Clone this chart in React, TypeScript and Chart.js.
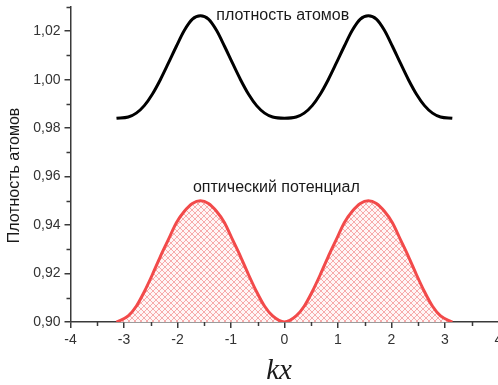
import React, { useEffect, useRef } from 'react';
import { Chart, registerables } from 'chart.js';

Chart.register(...registerables);

// ---- data ----
const DENSITY_X = [-3.14, -2.92, -2.77, -2.62, -2.47, -2.32, -2.17, -2.02, -1.87, -1.72, -1.57, -1.42, -1.27, -1.12, -0.97, -0.82, -0.67, -0.52, -0.37, -0.22, 0, 0.22, 0.37, 0.52, 0.67, 0.82, 0.97, 1.12, 1.27, 1.42, 1.57, 1.72, 1.87, 2.02, 2.17, 2.32, 2.47, 2.62, 2.77, 2.92, 3.14];
const DENSITY_Y = [0.9841, 0.9846, 0.9862, 0.9893, 0.994, 1.0, 1.0068, 1.0138, 1.0204, 1.025, 1.0264, 1.025, 1.0204, 1.0138, 1.0068, 1.0, 0.994, 0.9893, 0.9862, 0.9846, 0.9841, 0.9846, 0.9862, 0.9893, 0.994, 1.0, 1.0068, 1.0138, 1.0204, 1.025, 1.0264, 1.025, 1.0204, 1.0138, 1.0068, 1.0, 0.994, 0.9893, 0.9862, 0.9846, 0.9841];

const POTENTIAL_X = [-3.14, -2.92, -2.77, -2.62, -2.47, -2.32, -2.17, -2.02, -1.87, -1.72, -1.57, -1.42, -1.27, -1.12, -0.97, -0.82, -0.67, -0.52, -0.37, -0.22, 0, 0.22, 0.37, 0.52, 0.67, 0.82, 0.97, 1.12, 1.27, 1.42, 1.57, 1.72, 1.87, 2.02, 2.17, 2.32, 2.47, 2.62, 2.77, 2.92, 3.14];
const POTENTIAL_Y = [0.9, 0.9025, 0.9065, 0.9125, 0.9195, 0.927, 0.934, 0.941, 0.9457, 0.9489, 0.95, 0.9489, 0.9457, 0.941, 0.934, 0.927, 0.9195, 0.9125, 0.9065, 0.9025, 0.9, 0.9025, 0.9065, 0.9125, 0.9195, 0.927, 0.934, 0.941, 0.9457, 0.9489, 0.95, 0.9489, 0.9457, 0.941, 0.934, 0.927, 0.9195, 0.9125, 0.9065, 0.9025, 0.9];

const X_TICKS = [-4, -3, -2, -1, 0, 1, 2, 3, 4];
const X_TICK_LABELS = ['-4', '-3', '-2', '-1', '0', '1', '2', '3', '4'];
const X_MINOR = [-3.5, -2.5, -1.5, -0.5, 0.5, 1.5, 2.5, 3.5];
const Y_TICKS = [0.9, 0.92, 0.94, 0.96, 0.98, 1.0, 1.02];
const Y_TICK_LABELS = ['0,90', '0,92', '0,94', '0,96', '0,98', '1,00', '1,02'];
const Y_MINOR = [0.91, 0.93, 0.95, 0.97, 0.99, 1.01, 1.03];

const SERIES_LABELS = ['плотность атомов', 'оптический потенциал'];
const Y_TITLE = 'Плотность атомов';
const X_TITLE = 'kx';

const SANS = '"Liberation Sans", Arial, sans-serif';
const AXIS_COLOR = '#3a3a3a';

function makeHatch(): CanvasPattern | string {
  const c = document.createElement('canvas');
  c.width = 6;
  c.height = 6;
  const g = c.getContext('2d');
  if (!g) return 'rgba(240,80,80,0.3)';
  g.fillStyle = 'rgba(255,246,246,1)';
  g.fillRect(0, 0, 6, 6);
  g.strokeStyle = 'rgba(244,140,140,0.7)';
  g.lineWidth = 1;
  g.beginPath();
  g.moveTo(-1, -1);
  g.lineTo(7, 7);
  g.moveTo(7, -1);
  g.lineTo(-1, 7);
  g.stroke();
  return g.createPattern(c, 'repeat') as CanvasPattern;
}

const decorPlugin = {
  id: 'decor',
  afterDraw(chart: any) {
    const ctx = chart.ctx;
    const xs = chart.scales.x;
    const ys = chart.scales.y;
    ctx.save();
    // minor ticks
    ctx.strokeStyle = AXIS_COLOR;
    ctx.lineWidth = 1.5;
    ctx.beginPath();
    const axY = ys.bottom;
    const axX = xs.left;
    X_MINOR.forEach((v) => {
      const px = Math.round(xs.getPixelForValue(v)) + 0.5;
      ctx.moveTo(px, axY);
      ctx.lineTo(px, axY + 4);
    });
    Y_MINOR.forEach((v) => {
      const py = Math.round(ys.getPixelForValue(v)) + 0.5;
      ctx.moveTo(axX, py);
      ctx.lineTo(axX - 4, py);
    });
    ctx.stroke();

    // series annotations
    ctx.fillStyle = '#1a1a1a';
    ctx.font = `16px ${SANS}`;
    ctx.textAlign = 'center';
    ctx.textBaseline = 'middle';
    ctx.fillText(SERIES_LABELS[0], xs.getPixelForValue(-0.03), ys.getPixelForValue(1.0265));
    ctx.fillText(SERIES_LABELS[1], xs.getPixelForValue(-0.15), ys.getPixelForValue(0.9555));

    // y title
    ctx.save();
    ctx.translate(15, (ys.top + ys.bottom) / 2 + 11);
    ctx.rotate(-Math.PI / 2);
    ctx.font = `16px ${SANS}`;
    ctx.fillStyle = '#1a1a1a';
    ctx.fillText(Y_TITLE, 0, 0);
    ctx.restore();

    // x title
    ctx.font = `italic 29px "Liberation Serif", "Times New Roman", serif`;
    ctx.fillStyle = '#1a1a1a';
    ctx.fillText(X_TITLE, xs.getPixelForValue(-0.1), 371);
    ctx.restore();
  },
};

export default function App() {
  const ref = useRef<HTMLCanvasElement | null>(null);

  useEffect(() => {
    document.body.style.margin = '0';
    document.body.style.overflow = 'hidden';
    const canvas = ref.current;
    if (!canvas) return;
    const hatch = makeHatch();
    const chart = new Chart(canvas, {
      type: 'line',
      data: {
        datasets: [
          {
            label: SERIES_LABELS[0],
            data: DENSITY_X.map((x, i) => ({ x, y: DENSITY_Y[i] })),
            borderColor: '#000000',
            borderWidth: 3,
            pointRadius: 0,
            cubicInterpolationMode: 'monotone',
            fill: false,
          },
          {
            label: SERIES_LABELS[1],
            data: POTENTIAL_X.map((x, i) => ({ x, y: POTENTIAL_Y[i] })),
            borderColor: '#f24a4a',
            borderWidth: 3,
            pointRadius: 0,
            cubicInterpolationMode: 'monotone',
            fill: { value: 0.9 },
            backgroundColor: hatch as any,
          },
        ],
      },
      options: {
        animation: false,
        responsive: false,
        events: [],
        layout: { padding: { top: 7, right: 21.7, left: 0, bottom: 0 } },
        plugins: { legend: { display: false }, tooltip: { enabled: false }, title: { display: false } },
        scales: {
          x: {
            type: 'linear',
            min: -4,
            max: 4,
            afterBuildTicks: (s: any) => {
              s.ticks = X_TICKS.map((v) => ({ value: v }));
            },
            afterFit: (s: any) => {
              s.height = 63;
              s.paddingLeft = 0;
              s.paddingRight = 0;
            },
            ticks: {
              callback: (_v: any, i: number) => X_TICK_LABELS[i],
              font: { family: SANS, size: 14 },
              color: '#333333',
              padding: 4,
              maxRotation: 0,
              autoSkip: false,
            },
            grid: { drawOnChartArea: false, tickLength: 6, color: AXIS_COLOR, lineWidth: 1.5 },
            border: { color: AXIS_COLOR, width: 1.5 },
          },
          y: {
            type: 'linear',
            min: 0.9,
            max: 1.03,
            afterBuildTicks: (s: any) => {
              s.ticks = Y_TICKS.map((v) => ({ value: v }));
            },
            afterFit: (s: any) => {
              s.width = 70.5;
              s.paddingTop = 0;
              s.paddingBottom = 0;
            },
            ticks: {
              callback: (_v: any, i: number) => Y_TICK_LABELS[i],
              font: { family: SANS, size: 14 },
              color: '#333333',
              padding: 4,
              autoSkip: false,
            },
            grid: { drawOnChartArea: false, tickLength: 6, color: AXIS_COLOR, lineWidth: 1.5 },
            border: { color: AXIS_COLOR, width: 1.5 },
          },
        },
      },
      plugins: [decorPlugin],
    } as any);
    return () => chart.destroy();
  }, []);

  return (
    <div style={{ width: 498, height: 385, overflow: 'hidden', position: 'relative' }}>
      <canvas ref={ref} width={520} height={385} style={{ width: 520, height: 385, display: 'block' }} />
    </div>
  );
}
